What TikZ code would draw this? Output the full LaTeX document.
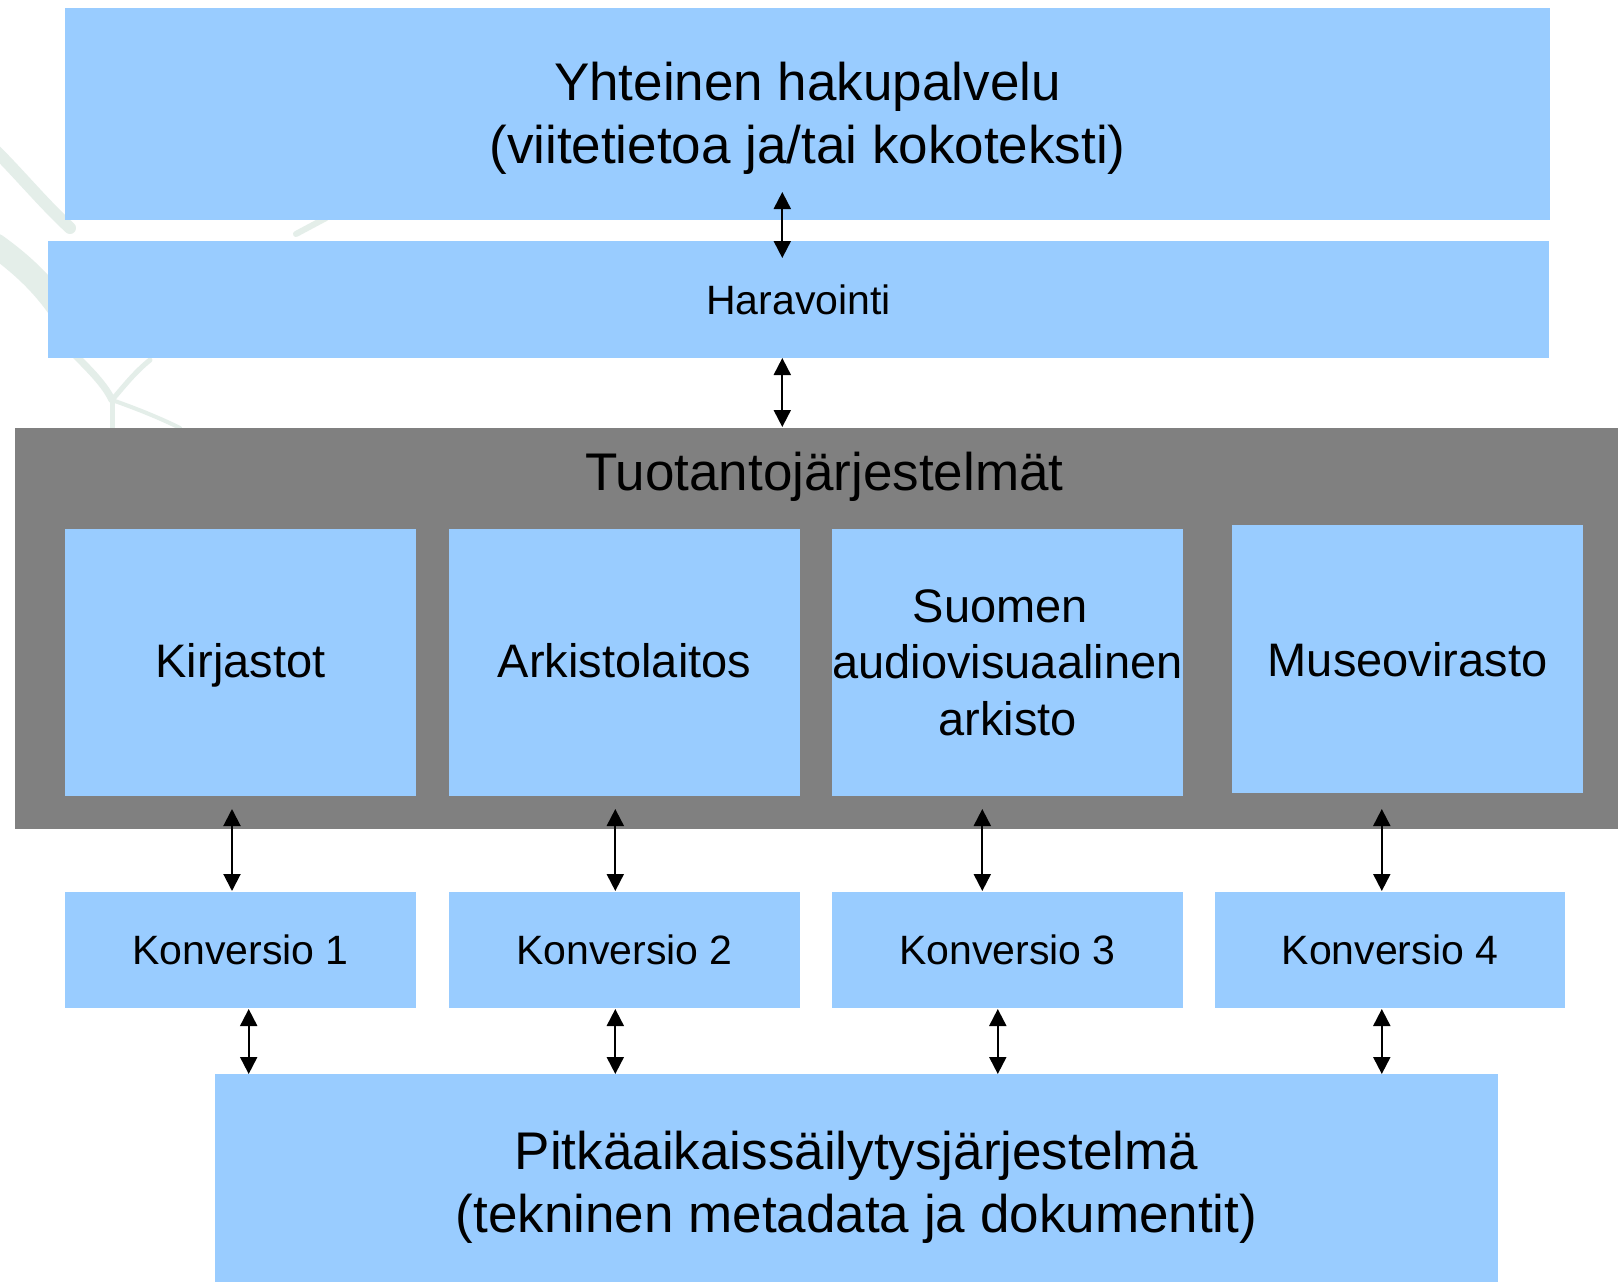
\documentclass[tikz,border=0pt]{standalone}
\usepackage{fontspec}
\setmainfont{Liberation Sans}
\usetikzlibrary{arrows.meta}
\definecolor{boxblue}{HTML}{99CCFF}
\definecolor{sysgrey}{HTML}{808080}
\definecolor{leafgreen}{HTML}{E4EEE9}
\begin{document}
\begin{tikzpicture}[x=1pt,y=-1pt,
  bluebox/.style={fill=boxblue, draw=none, inner sep=0pt, outer sep=0pt},
  greybox/.style={fill=sysgrey, draw=none, inner sep=0pt, outer sep=0pt},
  bigtxt/.style={font=\fontsize{53}{63}\selectfont, anchor=base, inner sep=0pt},
  midtxt/.style={font=\fontsize{47}{56}\selectfont, anchor=base, inner sep=0pt},
  smalltxt/.style={font=\fontsize{41}{49}\selectfont, anchor=base, inner sep=0pt},
  biarrow/.style={{Triangle[length=17pt,width=17pt]}-{Triangle[length=17pt,width=17pt]}, line width=2pt, draw=black},
  leafline/.style={draw=leafgreen, line cap=round}]
\useasboundingbox (0,0) rectangle (1618,1282);
\fill[white] (0,0) rectangle (1618,1282);

% faint watermark leaves
\draw[leafline, line width=12pt] (-5,150) .. controls (20,175) and (45,205) .. (70,228);
\draw[leafline, line width=24pt] (-5,245) .. controls (30,270) and (60,300) .. (80,345);
\draw[leafline, line width=7pt] (75,355) .. controls (90,370) and (105,385) .. (112,400);
\draw[leafline, line width=5pt] (112,400) -- (112,428);
\draw[leafline, line width=5pt] (112,400) .. controls (125,385) and (135,372) .. (150,360);
\draw[leafline, line width=4pt] (112,400) .. controls (135,408) and (160,418) .. (180,428);
\draw[leafline, line width=6pt] (296,234) -- (326,218);

% boxes
\node[bluebox, minimum width=1485pt, minimum height=212pt] (yht) at (807.5,114) {};
\node[bluebox, minimum width=1501pt, minimum height=117pt] (har) at (798.5,299.5) {};
\node[greybox, minimum width=1603pt, minimum height=401pt] (tuo) at (816.5,628.5) {};
\node[bluebox, minimum width=351pt, minimum height=267pt] (kir) at (240.5,662.5) {};
\node[bluebox, minimum width=351pt, minimum height=267pt] (ark) at (624.5,662.5) {};
\node[bluebox, minimum width=351pt, minimum height=267pt] (sav) at (1007.5,662.5) {};
\node[bluebox, minimum width=351pt, minimum height=268pt] (mus) at (1407.5,659) {};
\node[bluebox, minimum width=351pt, minimum height=116pt] (k1) at (240.5,950) {};
\node[bluebox, minimum width=351pt, minimum height=116pt] (k2) at (624.5,950) {};
\node[bluebox, minimum width=351pt, minimum height=116pt] (k3) at (1007.5,950) {};
\node[bluebox, minimum width=350pt, minimum height=116pt] (k4) at (1390,950) {};
\node[bluebox, minimum width=1283pt, minimum height=208pt] (pit) at (856.5,1178) {};

% texts
\node[bigtxt] (t-yht1) at (807.5,100) {Yhteinen hakupalvelu};
\node[bigtxt] (t-yht2) at (807.5,163) {(viitetietoa ja/tai kokoteksti)};
\node[smalltxt] (t-har) at (798.5,314) {Haravointi};
\node[bigtxt] (t-tuo) at (824.5,490) {Tuotantojärjestelmät};
\node[midtxt] (t-kir) at (240.5,677) {Kirjastot};
\node[midtxt] (t-ark) at (624.5,677) {Arkistolaitos};
\node[midtxt] (t-sav1) at (1000.5,622) {Suomen};
\node[midtxt] (t-sav2) at (1007.5,678) {audiovisuaalinen};
\node[midtxt] (t-sav3) at (1007.5,735) {arkisto};
\node[midtxt] (t-mus) at (1407.5,676) {Museovirasto};
\node[smalltxt] (t-k1) at (240.5,964) {Konversio 1};
\node[smalltxt] (t-k2) at (624.5,964) {Konversio 2};
\node[smalltxt] (t-k3) at (1007.5,964) {Konversio 3};
\node[smalltxt] (t-k4) at (1390,964) {Konversio 4};
\node[bigtxt] (t-pit1) at (856.5,1169) {Pitkäaikaissäilytysjärjestelmä};
\node[bigtxt] (t-pit2) at (856.5,1232) {(tekninen metadata ja dokumentit)};

% arrow end points
\coordinate (a1s) at (782.3,192);  \coordinate (a1e) at (782.3,258);
\coordinate (a2s) at (782.3,358);  \coordinate (a2e) at (782.3,427);
\coordinate (b1s) at (232,809);    \coordinate (b1e) at (232,891);
\coordinate (b2s) at (615.3,809);  \coordinate (b2e) at (615.3,891);
\coordinate (b3s) at (982.3,809);  \coordinate (b3e) at (982.3,891);
\coordinate (b4s) at (1381.8,809); \coordinate (b4e) at (1381.8,891);
\coordinate (c1s) at (248.7,1009); \coordinate (c1e) at (248.7,1074);
\coordinate (c2s) at (615.3,1009); \coordinate (c2e) at (615.3,1074);
\coordinate (c3s) at (997.8,1009); \coordinate (c3e) at (997.8,1074);
\coordinate (c4s) at (1381.8,1009);\coordinate (c4e) at (1381.8,1074);

\draw[biarrow] (a1s) -- (a1e);
\draw[biarrow] (a2s) -- (a2e);
\draw[biarrow] (b1s) -- (b1e);
\draw[biarrow] (b2s) -- (b2e);
\draw[biarrow] (b3s) -- (b3e);
\draw[biarrow] (b4s) -- (b4e);
\draw[biarrow] (c1s) -- (c1e);
\draw[biarrow] (c2s) -- (c2e);
\draw[biarrow] (c3s) -- (c3e);
\draw[biarrow] (c4s) -- (c4e);
\end{tikzpicture}
\end{document}
